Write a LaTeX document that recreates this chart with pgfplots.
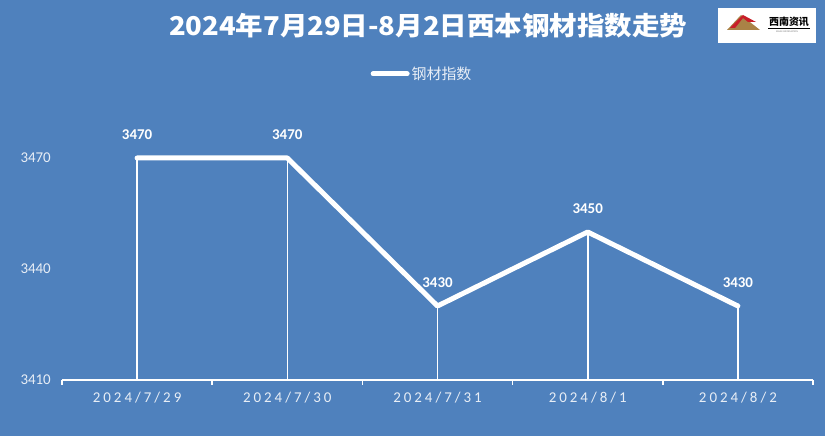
\documentclass[border=0pt]{standalone}
\usepackage{pgfplots}
\pgfplotsset{compat=1.18}
\usepackage{fontspec}
\setmainfont{Carlito}
\newfontfamily\cjk{Noto Sans CJK SC}
\newfontfamily\xlab{Carlito}[LetterSpace=20]
\definecolor{bg}{RGB}{79,129,189}
\definecolor{lbl}{RGB}{232,238,246}
\definecolor{logored}{RGB}{200,30,40}
\definecolor{logogold}{RGB}{170,130,70}

\begin{document}
\begin{tikzpicture}[x=1bp,y=1bp]
\fill[bg] (0,0) rectangle (825,436);
% title
\node[white, font=\cjk\bfseries\fontsize{26}{26}\selectfont, xscale=1.06, transform shape] at (428,410) {2024年7月29日-8月2日西本钢材指数走势};
% logo
\fill[white] (718,393) rectangle (816,428);
\fill[logogold] (727,406) -- (741,421) -- (760,406) -- cycle;
\fill[logored] (730,408) -- (743,421) -- (756,414) -- (748,414) -- (743,418) -- (735,408) -- cycle;
\node[black, font=\cjk\bfseries\fontsize{10}{10}\selectfont, inner sep=0] at (789,414) {西南资讯};
\draw[black, line width=0.6bp] (768,408) -- (810,408);
\node[gray, font=\fontsize{2.5}{3}\selectfont, inner sep=0] at (787,404) {XINAN INFORMATION};
\begin{axis}[
    at={(62bp,56bp)}, anchor=south west,
    scale only axis, width=751bp, height=333bp,
    xmin=-0.5, xmax=4.5, ymin=3410, ymax=3500,
    axis x line=bottom, axis y line=left,
    x axis line style={-, white, line width=1.5bp},
    y axis line style={draw=none},
    xtick={0,1,2,3,4},
    xticklabels={2024/7/29,2024/7/30,2024/7/31,2024/8/1,2024/8/2},
    minor xtick={-0.5,0.5,1.5,2.5,3.5,4.5},
    ytick={3410,3440,3470},
    /pgf/number format/assume math mode=true,
    /pgf/number format/1000 sep={},
    major tick length=0pt, minor tick length=5bp,
    tick align=outside,
    minor x tick style={white, line width=1.5bp},
    major tick style={draw=none},
    xticklabel style={font=\xlab\fontsize{15}{15}\selectfont, text=lbl, anchor=north, inner sep=0pt, yshift=-12bp},
    yticklabel style={font=\fontsize{15}{15}\selectfont, text=lbl, anchor=east, inner sep=0pt, xshift=-11bp},
    clip=false,
    legend style={at={(0.4794,0.919)}, anchor=center, draw=none, fill=none,
        text=lbl, font=\cjk\fontsize{15}{17}\selectfont},
    legend image code/.code={\draw[#1, line width=5bp, line cap=round] (0bp,0bp) -- (34bp,0bp);},
  ]
\addplot[white, line width=1.6bp, ycomb, forget plot] coordinates {(0,3470) (1,3470) (2,3430) (3,3450) (4,3430)};
\addplot[white, line width=5bp, line join=round, line cap=round,
    nodes near coords,
    every node near coord/.append style={font=\bfseries\fontsize{15}{15}\selectfont, white, anchor=south, inner sep=0pt, yshift=16bp}]
    coordinates {(0,3470) (1,3470) (2,3430) (3,3450) (4,3430)};
\addlegendentry{钢材指数}
\end{axis}
\end{tikzpicture}
\end{document}
